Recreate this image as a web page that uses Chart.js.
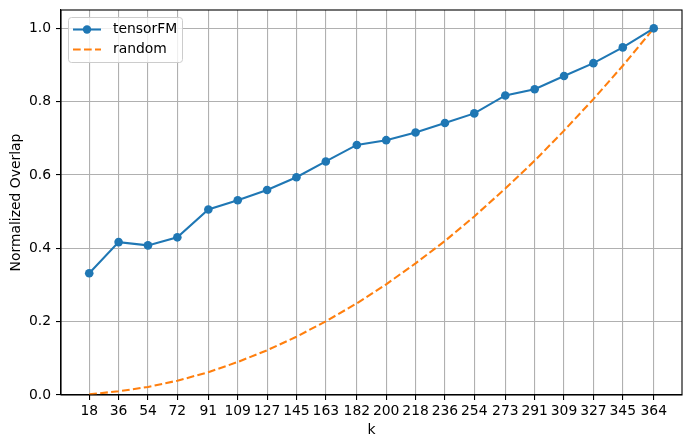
<!DOCTYPE html>
<html>
<head>
<meta charset="utf-8">
<script src="https://cdn.jsdelivr.net/npm/chart.js@4.4.1/dist/chart.umd.min.js"></script>
<style>
  html, body { margin: 0; padding: 0; background: #fff; }
  #wrap { width: 691px; height: 448px; }
</style>
</head>
<body>
<div id="wrap"><canvas id="grafico" width="691" height="448"></canvas></div>
<script>
const kValues = [18, 36, 54, 72, 91, 109, 127, 145, 163, 182, 200, 218, 236, 254, 273, 291, 309, 327, 345, 364];
const tensorFM = [0.332, 0.417, 0.408, 0.430, 0.506, 0.531, 0.559, 0.594, 0.637, 0.682, 0.695, 0.716, 0.742, 0.768, 0.817, 0.834, 0.870, 0.905, 0.948, 1.000];
const random = [0.002, 0.010, 0.022, 0.039, 0.062, 0.090, 0.122, 0.159, 0.201, 0.250, 0.302, 0.359, 0.420, 0.487, 0.563, 0.639, 0.721, 0.807, 0.898, 1.000];
const yTicks = [0, 0.2, 0.4, 0.6, 0.8, 1.0];

const FONT = { family: 'DejaVu Sans', size: 13.9 };
const BLUE = '#1f77b4';
const ORANGE = '#ff7f0e';
const DASH = [7.7, 3.3];

function toPoints(ys) {
  return kValues.map(function(k, i) { return { x: k, y: ys[i] }; });
}

// marco superior/derecho y leyenda estilo matplotlib
const marcoPlugin = {
  id: 'marco',
  afterDraw: function(chart) {
    const ctx = chart.ctx;
    const a = chart.chartArea;
    ctx.save();
    ctx.strokeStyle = '#000';
    ctx.lineWidth = 1.1;
    ctx.strokeRect(a.left, a.top, a.right - a.left, a.bottom - a.top);

    // leyenda
    const bx = 68.5, by = 17.5, bw = 114, bh = 45, r = 3;
    ctx.beginPath();
    ctx.roundRect(bx, by, bw, bh, r);
    ctx.fillStyle = 'rgba(255,255,255,0.8)';
    ctx.fill();
    ctx.strokeStyle = '#cccccc';
    ctx.lineWidth = 1;
    ctx.stroke();

    ctx.lineWidth = 2.08;
    ctx.strokeStyle = BLUE;
    ctx.beginPath();
    ctx.moveTo(73, 29.5);
    ctx.lineTo(101, 29.5);
    ctx.stroke();
    ctx.fillStyle = BLUE;
    ctx.beginPath();
    ctx.arc(87, 29.5, 4.2, 0, Math.PI * 2);
    ctx.fill();

    ctx.strokeStyle = ORANGE;
    ctx.setLineDash(DASH);
    ctx.beginPath();
    ctx.moveTo(73, 49.5);
    ctx.lineTo(101, 49.5);
    ctx.stroke();
    ctx.setLineDash([]);

    ctx.fillStyle = '#000';
    ctx.font = FONT.size + 'px "' + FONT.family + '"';
    ctx.textBaseline = 'middle';
    ctx.textAlign = 'left';
    ctx.fillText('tensorFM', 113, 29.5);
    ctx.fillText('random', 113, 49.5);
    ctx.restore();
  }
};

const ctx = document.getElementById('grafico').getContext('2d');
const chart = new Chart(ctx, {
  type: 'line',
  data: {
    datasets: [{
      label: 'tensorFM',
      data: toPoints(tensorFM),
      borderColor: BLUE,
      backgroundColor: BLUE,
      borderWidth: 2.08,
      pointRadius: 4.3,
      pointBorderWidth: 0,
      pointBackgroundColor: BLUE,
      tension: 0
    }, {
      label: 'random',
      data: toPoints(random),
      borderColor: ORANGE,
      backgroundColor: ORANGE,
      borderWidth: 2.08,
      borderDash: DASH,
      pointRadius: 0,
      tension: 0
    }]
  },
  options: {
    responsive: false,
    animation: false,
    devicePixelRatio: 1,
    layout: { padding: { top: 10, right: 9, left: 0, bottom: 0 } },
    plugins: {
      legend: { display: false },
      tooltip: { enabled: false }
    },
    scales: {
      x: {
        type: 'linear',
        min: 0.7,
        max: 381.3,
        afterBuildTicks: function(axis) {
          axis.ticks = kValues.map(function(v) { return { value: v }; });
        },
        afterFit: function(scale) {
          scale.height = 53;
          scale.paddingLeft = 0;
          scale.paddingRight = 0;
        },
        ticks: {
          font: FONT,
          color: '#000',
          padding: 3,
          maxRotation: 0,
          autoSkip: false,
          callback: function(v) { return String(v); }
        },
        grid: {
          color: '#b0b0b0',
          lineWidth: 1.1,
          drawTicks: true,
          tickLength: 5,
          tickColor: '#000',
          tickWidth: 1.1
        },
        border: { color: '#000', width: 1.1 },
        title: {
          display: true,
          text: 'k',
          font: FONT,
          color: '#000',
          padding: { top: 0, bottom: 9 }
        }
      },
      y: {
        min: 0,
        max: 1.05,
        afterBuildTicks: function(axis) {
          axis.ticks = yTicks.map(function(v) { return { value: v }; });
        },
        afterFit: function(scale) {
          scale.width = 61;
          scale.paddingTop = 0;
          scale.paddingBottom = 0;
        },
        ticks: {
          font: FONT,
          color: '#000',
          padding: 5,
          callback: function(v) { return v.toFixed(1); }
        },
        grid: {
          color: '#b0b0b0',
          lineWidth: 1.1,
          drawTicks: true,
          tickLength: 5,
          tickColor: '#000',
          tickWidth: 1.1
        },
        border: { color: '#000', width: 1.1 },
        title: {
          display: true,
          text: 'Normalized Overlap',
          font: FONT,
          color: '#000',
          padding: { top: 8, bottom: 0 }
        }
      }
    }
  },
  plugins: [marcoPlugin]
});
</script>
</body>
</html>
